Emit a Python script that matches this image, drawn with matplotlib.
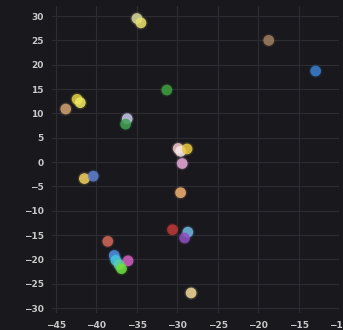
import matplotlib.pyplot as plt

# point positions (x, y) and their colours
xs = [-35.0, -34.5, -18.7, -12.9, -31.3, -42.4, -42.0, -43.8, -36.2, -36.4,
      -41.5, -40.4, -29.9, -29.6, -28.8, -29.4, -29.6, -30.6, -28.7, -29.1,
      -38.6, -37.8, -37.6, -36.1, -37.2, -36.9, -28.3]
ys = [29.5, 28.6, 25.0, 18.7, 14.8, 12.9, 12.2, 10.9, 8.9, 7.8,
      -3.4, -2.9, 2.8, 2.2, 2.7, -0.3, -6.3, -13.9, -14.4, -15.6,
      -16.3, -19.2, -20.2, -20.3, -21.1, -21.9, -26.9]
colors = ['#d8d89a', '#e8e070', '#a08060', '#3a7fd0', '#40a040', '#e0d040', '#f0e860', '#d0a070',
          '#c8c8e8', '#40a050',
          '#f0d060', '#6080d0', '#f0c8c8', '#f8e8e8', '#e8c840', '#e8a8d8', '#f0b070',
          '#c03838', '#70b8e0', '#9050c0',
          '#d06858', '#5090e0', '#40c8e0', '#d060c0', '#60d0a0', '#70e040', '#f0d898']

fig = plt.figure(figsize=(3.43, 3.30), dpi=100, facecolor='#18181d')
ax = fig.add_axes([0.1516, 0.0518, 0.837, 0.929])
ax.set_facecolor('#18181d')

# soft halo then the dot itself
ax.scatter(xs, ys, s=95, c=colors, alpha=0.15, edgecolors='none', zorder=2)
ax.scatter(xs, ys, s=60, c=colors, alpha=0.85, edgecolors='none', zorder=3)

ax.set_xlim(-45.5, -10)
ax.set_ylim(-31, 32)
ax.set_xticks(range(-45, -9, 5))
ax.set_yticks(range(-30, 31, 5))
ax.grid(True, color='#2c2c32', linewidth=0.8)
ax.set_axisbelow(True)
for s in ax.spines.values():
    s.set_visible(False)
ax.tick_params(colors='#c8c8c8', labelsize=6.5, length=0, pad=6)
for lab in ax.get_xticklabels() + ax.get_yticklabels():
    lab.set_fontweight('bold')

fig.savefig('out.png', dpi=100, facecolor=fig.get_facecolor())
